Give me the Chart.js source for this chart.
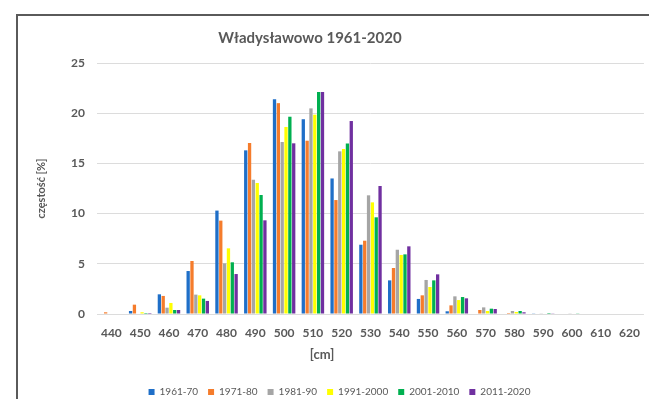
<!DOCTYPE html>
<html>
<head>
<meta charset="utf-8">
<script src="https://cdn.jsdelivr.net/npm/chart.js@4.4.1/dist/chart.umd.min.js"></script>
<style>
  html, body { margin: 0; padding: 0; background: #fff; overflow: hidden; width: 649px; height: 399px; }
  #frame { position: absolute; left: 16px; top: 14px; width: 700px; height: 500px; border-left: 2px solid #5a5a5a; border-top: 2px solid #5a5a5a; }
  #wrap { position: absolute; left: 0; top: 0; width: 652px; height: 407px; }
</style>
</head>
<body>
<div id="frame"></div>
<div id="wrap"><canvas id="chart"></canvas></div>
<script>
const categories = ['440','450','460','470','480','490','500','510','520','530','540','550','560','570','580','590','600','610','620'];
const seriesNames = ['1961-70','1971-80','1981-90','1991-2000','2001-2010','2011-2020'];
const seriesColors = ['#1f6fc8','#f57c2c','#a5a5a5','#ffff00','#00b050','#7030a0'];

const v1961 = [0, 0.3, 1.96, 4.28, 10.3, 16.3, 21.4, 19.4, 13.5, 6.9, 3.35, 1.5, 0.27, 0, 0, 0.03, 0, 0, 0];
const v1971 = [0.17, 0.93, 1.8, 5.28, 9.3, 17.03, 21.0, 17.26, 11.35, 7.3, 4.58, 1.86, 0.86, 0.4, 0.1, 0, 0, 0, 0];
const v1981 = [0, 0, 0.63, 1.93, 5.05, 13.38, 17.13, 20.48, 16.2, 11.82, 6.4, 3.39, 1.76, 0.66, 0.3, 0.03, 0.03, 0, 0];
const v1991 = [0, 0.17, 1.1, 1.86, 6.54, 13.05, 18.63, 19.85, 16.43, 11.12, 5.88, 2.69, 1.39, 0.3, 0.2, 0, 0, 0, 0];
const v2001 = [0, 0.1, 0.4, 1.53, 5.15, 11.85, 19.65, 22.11, 16.97, 9.63, 5.94, 3.35, 1.69, 0.53, 0.3, 0.1, 0.03, 0, 0];
const v2011 = [0, 0.1, 0.4, 1.3, 3.98, 9.33, 17.0, 22.11, 19.22, 12.75, 6.74, 3.95, 1.56, 0.5, 0.17, 0.03, 0, 0, 0];

const chartTitle = 'Władysławowo 1961-2020';
const xTitle = '[cm]';
const yTitle = 'częstość [%]';

const txt = '#595959';
const fam = 'Lato, "Open Sans", sans-serif';

// title and x axis title sit off-centre in the original, so draw them here
const extraText = {
  id: 'extraText',
  afterDraw(chart) {
    const ctx = chart.ctx;
    ctx.save();
    ctx.fillStyle = txt;
    ctx.textAlign = 'center';
    ctx.textBaseline = 'middle';
    ctx.font = 'bold 15px ' + fam;
    ctx.fillText(chartTitle, 310, 38);
    ctx.font = 'bold 13px ' + fam;
    ctx.fillText(xTitle, 322, 355);
    ctx.restore();
  }
};

const allValues = [v1961, v1971, v1981, v1991, v2001, v2011];
const datasets = seriesNames.map((name, i) => ({
  label: name,
  data: allValues[i],
  backgroundColor: seriesColors[i],
  borderWidth: 0,
  categoryPercentage: 0.8,
  barPercentage: 0.86
}));

new Chart(document.getElementById('chart'), {
  type: 'bar',
  data: { labels: categories, datasets },
  options: {
    responsive: true,
    maintainAspectRatio: false,
    animation: false,
    layout: { padding: { top: 63, left: 28, right: 1, bottom: 0 } },
    plugins: {
      title: { display: false },
      tooltip: { enabled: false },
      legend: {
        position: 'bottom',
        labels: { boxWidth: 6, boxHeight: 6, padding: 10, color: txt, font: { family: fam, size: 10 } }
      }
    },
    scales: {
      x: {
        grid: { display: false, drawTicks: false },
        border: { display: false },
        ticks: { color: txt, padding: 12, font: { family: fam, size: 12, weight: 'bold' }, maxRotation: 0, autoSkip: false },
        afterFit(scale) { scale.height = 63; }
      },
      y: {
        min: 0, max: 25,
        grid: { color: '#dcdcdc', drawTicks: false },
        border: { display: false },
        ticks: { stepSize: 5, color: txt, padding: 12, font: { family: fam, size: 12, weight: 'bold' } },
        title: { display: true, text: yTitle, color: txt, padding: { top: 7, bottom: 0 }, font: { family: fam, size: 11, weight: 'bold' } },
        afterFit(scale) { scale.width = 69; }
      }
    }
  },
  plugins: [extraText]
});
</script>
</body>
</html>
